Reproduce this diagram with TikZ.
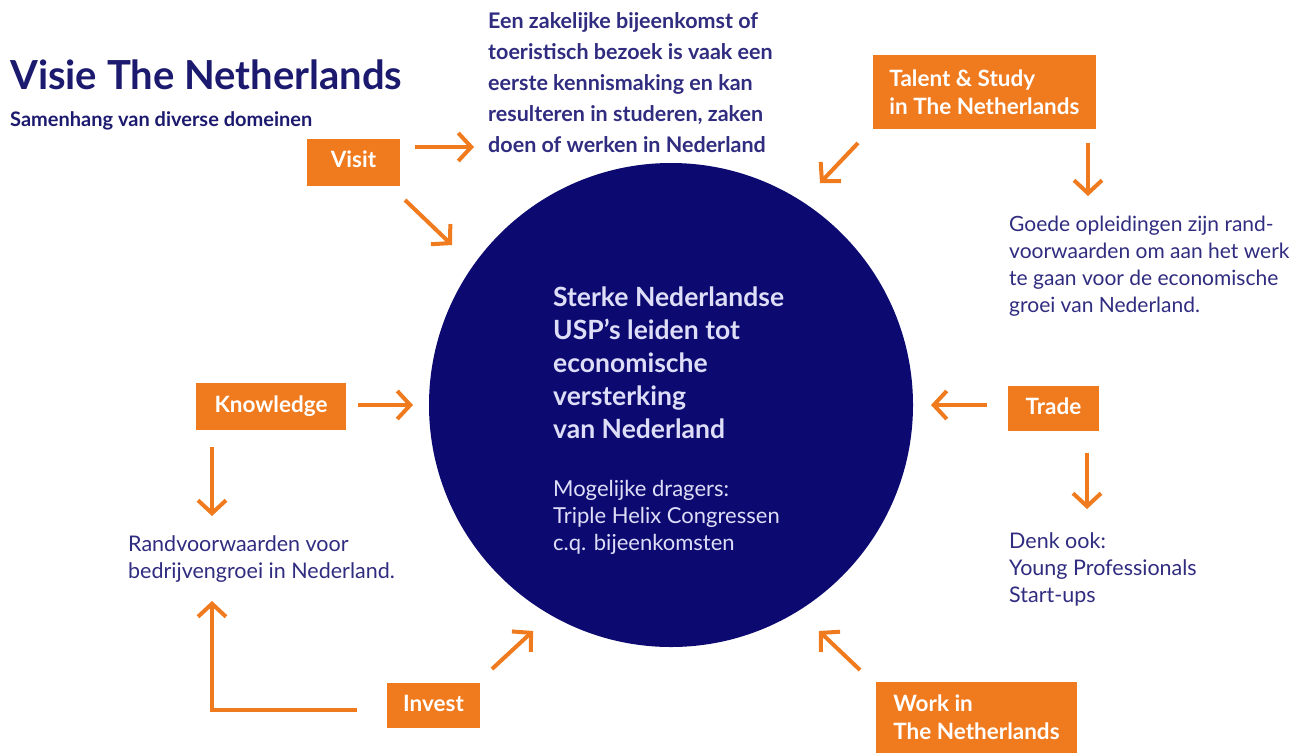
\documentclass[tikz,border=0pt]{standalone}
\usepackage{fontspec}
\setmainfont{Lato}
\usetikzlibrary{arrows.meta}

\definecolor{nlorange}{RGB}{240,122,30}
\definecolor{nlnavy}{RGB}{12,10,112}
\definecolor{nltitle}{RGB}{28,26,110}
\definecolor{nltext}{RGB}{48,44,128}
\definecolor{nlpale}{RGB}{222,222,248}

\tikzset{
  tag/.style={fill=nlorange, text=white, inner sep=0pt, align=left,
    font=\fontsize{22.5}{28}\selectfont\bfseries},
  tagline/.style={tag, text height=16pt, text depth=5pt},
  note/.style={text=nltext, anchor=base west, inner sep=0pt, align=left},
  arr/.style={draw=nlorange, line width=4pt,
    -{Straight Barb[length=13pt,width=28pt]}}
}

\begin{document}
\begin{tikzpicture}[x=1pt,y=-1pt]
    \useasboundingbox[fill=white] (0,0) rectangle (1303,753);

    %core (notes are anchored at the baseline of their last line)
    \node[circle, fill=nlnavy, minimum size=484pt, inner sep=0pt] (core) at (671,405) {};
    \node[note, text=nlpale, font=\fontsize{26.5}{33}\selectfont\bfseries] (coretext) at (553,438)
      {Sterke Nederlandse\\USP's leiden tot\\economische\\versterking\\van Nederland};
    \node[note, text=nlpale, font=\fontsize{22}{27}\selectfont] (carriers) at (553,550)
      {Mogelijke dragers:\\Triple Helix Congressen\\c.q. bijeenkomsten};

    %title
    \node[note, text=nltitle, font=\fontsize{40}{44}\selectfont\bfseries] (title) at (10,89) {Visie The Netherlands};
    \node[note, text=nltitle, font=\fontsize{20}{22}\selectfont\bfseries] (subtitle) at (10,126) {Samenhang van diverse domeinen};

    %tags
    \node[tagline, minimum width=93pt, minimum height=47pt] (visit) at (353.5,162) {Visit};
    \node[tag, minimum width=223pt, minimum height=74pt] (talent) at (984.5,92) {Talent \& Study\\in The Netherlands};
    \node[tagline, minimum width=150pt, minimum height=47pt] (knowledge) at (271,406.5) {Knowledge};
    \node[tagline, minimum width=91pt, minimum height=45pt] (trade) at (1053.5,408.5) {Trade};
    \node[tagline, minimum width=93pt, minimum height=45pt] (invest) at (433.5,705.5) {Invest};
    \node[tag, minimum width=201pt, minimum height=71pt] (work) at (976.5,717.5) {Work in\\The Netherlands};

    %notes
    \node[note, font=\fontsize{21.5}{31}\selectfont\bfseries] (visitnote) at (488,152)
      {Een zakelijke bijeenkomst of\\toeristisch bezoek is vaak een\\eerste kennismaking en kan\\resulteren in studeren, zaken\\doen of werken in Nederland};
    \node[note, font=\fontsize{21}{27}\selectfont] (talentnote) at (1009,312)
      {Goede opleidingen zijn rand-\\voorwaarden om aan het werk\\te gaan voor de economische\\groei van Nederland.};
    \node[note, font=\fontsize{21.5}{27}\selectfont] (growthnote) at (128,578)
      {Randvoorwaarden voor\\bedrijvengroei in Nederland.};
    \node[note, font=\fontsize{21.5}{27}\selectfont] (tradenote) at (1009,602)
      {Denk ook:\\Young Professionals\\Start-ups};

    %arrow ends
    \coordinate (visitA) at (415,147);   \coordinate (visitB) at (474,147);
    \coordinate (visitC) at (405,200);   \coordinate (visitD) at (452,245);
    \coordinate (talentA) at (858,143);  \coordinate (talentB) at (820,183);
    \coordinate (talentC) at (1088,143); \coordinate (talentD) at (1088,196);
    \coordinate (knowA) at (358,405);    \coordinate (knowB) at (413,405);
    \coordinate (knowC) at (212,447);    \coordinate (knowD) at (212,516);
    \coordinate (investA) at (357,710);  \coordinate (investB) at (212,601);
    \coordinate (investC) at (492,669);  \coordinate (investD) at (533,631);
    \coordinate (tradeA) at (987,405);   \coordinate (tradeB) at (931,405);
    \coordinate (tradeC) at (1087,453);  \coordinate (tradeD) at (1087,509);
    \coordinate (workA) at (860,670);    \coordinate (workB) at (819,631);

    %arrows
    \draw[arr] (visitA) -- (visitB);
    \draw[arr] (visitC) -- (visitD);
    \draw[arr] (talentA) -- (talentB);
    \draw[arr] (talentC) -- (talentD);
    \draw[arr] (knowA) -- (knowB);
    \draw[arr] (knowC) -- (knowD);
    \draw[arr] (investA) -| (investB);
    \draw[arr] (investC) -- (investD);
    \draw[arr] (tradeA) -- (tradeB);
    \draw[arr] (tradeC) -- (tradeD);
    \draw[arr] (workA) -- (workB);
\end{tikzpicture}
\end{document}
